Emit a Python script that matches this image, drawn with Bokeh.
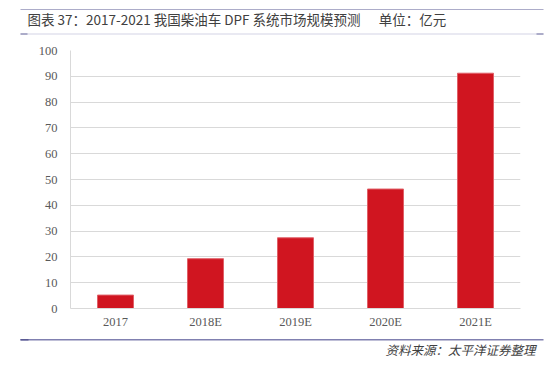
from bokeh.plotting import figure
from bokeh.models import Label, BoxAnnotation, FixedTicker
from bokeh.layouts import column
from bokeh.embed import file_html
from bokeh.resources import INLINE

categories = ["2017", "2018E", "2019E", "2020E", "2021E"]
values = [5.2, 19.3, 27.4, 46.3, 91.2]
y_ticks = [0, 10, 20, 30, 40, 50, 60, 70, 80, 90, 100]
title_text = "图表 37：2017-2021 我国柴油车 DPF 系统市场规模预测\u00a0\u00a0\u00a0\u00a0\u00a0\u00a0单位：亿元"
source_text = "资料来源：太平洋证券整理"

W = 546


def deco_figure(h):
    f = figure(width=W, height=h, x_range=(0, 1), y_range=(0, 1), output_backend="svg",
               toolbar_location=None, title=None, x_axis_location=None, y_axis_location=None,
               min_border=0)
    f.min_border_left = 0
    f.min_border_right = 0
    f.min_border_top = 0
    f.min_border_bottom = 0
    f.outline_line_color = None
    f.grid.visible = False
    f.background_fill_color = "white"
    f.border_fill_color = "white"
    return f


def rule(f, x0, x1, y0, y1, color):
    f.add_layout(BoxAnnotation(left=x0, right=x1, bottom=y0, top=y1,
                               left_units="screen", right_units="screen",
                               bottom_units="screen", top_units="screen",
                               fill_color=color, fill_alpha=1, line_color=None))


# top rule
top = deco_figure(10)
rule(top, 20, 543, 1, 3, "#5A5A94")

# title and thin rule under it
head = deco_figure(30)
rule(head, 20, 543, 6, 7, "#D4D4E6")
rule(head, 20, 27, 6, 7, "#7070A0")
rule(head, 536, 543, 6, 7, "#7070A0")
head.add_layout(Label(x=27, y=21.5, x_units="screen", y_units="screen", text=title_text,
                      text_font="Noto Sans CJK SC", text_font_size="13.5px", text_color="#404040",
                      text_baseline="middle", text_align="left"))

# main chart
p = figure(width=W, height=296, x_range=categories, y_range=(0, 100),
           output_backend="svg", toolbar_location=None, title=None,
           min_border_left=70, min_border_right=26, min_border_top=10, min_border_bottom=28)
p.outline_line_color = None
p.background_fill_color = "white"
p.border_fill_color = "white"

p.vbar(x=categories, top=values, width=0.4, fill_color="#D01520", line_color="#E06068", line_width=1)

p.xgrid.grid_line_color = None
p.ygrid.grid_line_color = "#D9D9D9"
p.yaxis.ticker = FixedTicker(ticks=y_ticks)
for ax in (p.xaxis, p.yaxis):
    ax.axis_line_color = "#D9D9D9"
    ax.major_tick_line_color = None
    ax.minor_tick_line_color = None
    ax.major_tick_out = 0
    ax.major_tick_in = 0
    ax.minor_tick_out = 0
    ax.minor_tick_in = 0
    ax.major_label_text_font = "Liberation Serif"
    ax.major_label_text_font_size = "12.5px"
    ax.major_label_text_color = "#595959"
p.yaxis.major_label_standoff = 13
p.xaxis.major_label_standoff = 6

# footer: rule and source
foot = deco_figure(26)
rule(foot, 20, 543, 22, 23.5, "#8080B0")
rule(foot, 20, 28, 22, 23.5, "#5A5A94")
foot.add_layout(Label(x=535, y=13, x_units="screen", y_units="screen", text=source_text,
                      text_font="Noto Sans CJK SC", text_font_size="12.5px", text_color="#404040",
                      text_font_style="italic", text_baseline="middle", text_align="right"))

layout = column(column(top, spacing=0), column(head, spacing=0), column(p, spacing=0),
                column(foot, spacing=0), spacing=0)
open("out.html", "w").write(file_html(layout, INLINE))
